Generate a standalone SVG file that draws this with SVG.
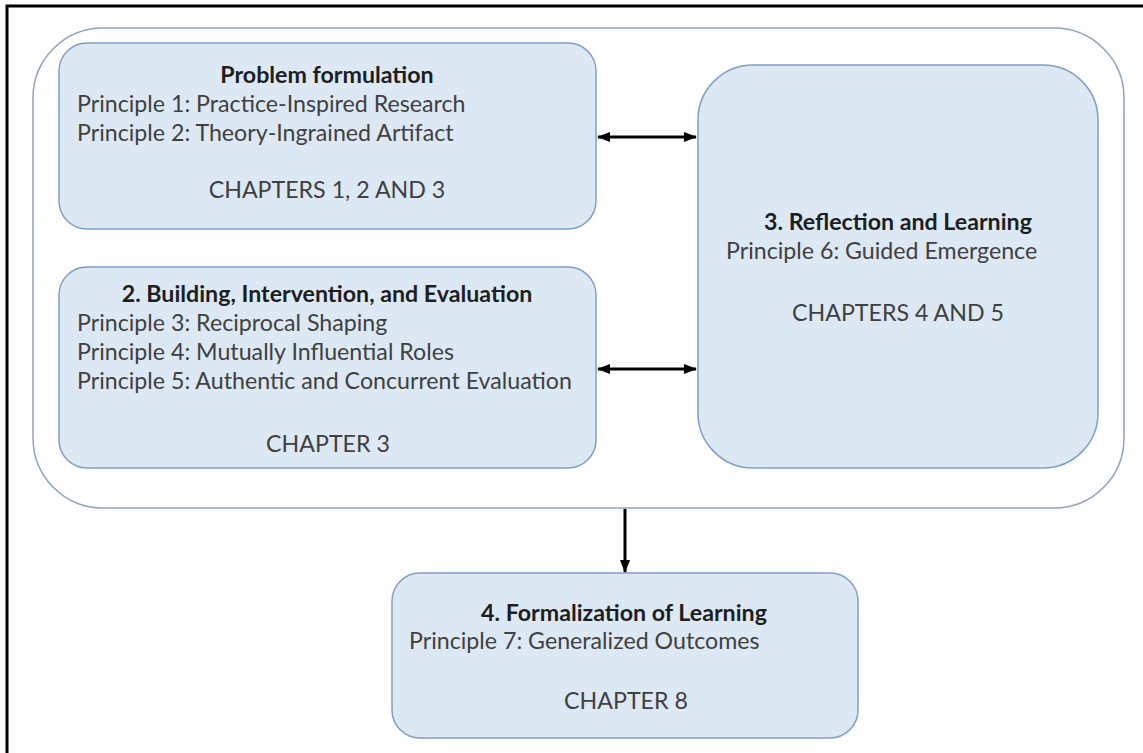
<svg xmlns="http://www.w3.org/2000/svg" width="1143" height="753" viewBox="0 0 1143 753">
  <defs>
    <style>
      .frame { stroke: #000; stroke-width: 3; fill: none; }
      .outer { fill: #ffffff; stroke: #8fa3bd; stroke-width: 1.5; }
      .box { fill: #dce8f4; stroke: #809fc4; stroke-width: 1.5; }
      .t { font-family: Lato, "Liberation Sans", sans-serif; font-size: 23.2px; fill: #404040; }
      .b { font-weight: bold; fill: #1e1e1e; }
      .c { text-anchor: middle; }
      .conn { stroke: #000; stroke-width: 3; fill: none; }
    </style>
    <marker id="ah" markerUnits="userSpaceOnUse" markerWidth="14" markerHeight="12" refX="12" refY="6" orient="auto-start-reverse">
      <path d="M0,1 L13,6 L0,11 Z" fill="#000"/>
    </marker>
  </defs>
  <rect width="1143" height="753" fill="#ffffff"/>
  <path class="frame" d="M7,753 L7,6 L1143,6"/>

  <g id="container">
    <rect class="outer" x="33" y="28" width="1091" height="480" rx="70" ry="70"/>
  </g>

  <g id="node-problem-formulation">
    <rect class="box" x="59" y="43" width="537" height="186" rx="28" ry="28"/>
    <text class="t b c" x="327" y="83">Problem formulation</text>
    <text class="t" x="77" y="112">Principle 1: Practice-Inspired Research</text>
    <text class="t" x="77" y="141">Principle 2: Theory-Ingrained Artifact</text>
    <text class="t c" x="327" y="198">CHAPTERS 1, 2 AND 3</text>
  </g>

  <g id="node-building">
    <rect class="box" x="59" y="267" width="537" height="201" rx="28" ry="28"/>
    <text class="t b c" x="327" y="302">2. Building, Intervention, and Evaluation</text>
    <text class="t" x="77" y="331">Principle 3: Reciprocal Shaping</text>
    <text class="t" x="77" y="360">Principle 4: Mutually Influential Roles</text>
    <text class="t" x="77" y="389">Principle 5: Authentic and Concurrent Evaluation</text>
    <text class="t c" x="328" y="452">CHAPTER 3</text>
  </g>

  <g id="node-reflection">
    <rect class="box" x="698" y="65" width="400" height="403" rx="55" ry="55"/>
    <text class="t b c" x="898" y="230">3. Reflection and Learning</text>
    <text class="t" x="726" y="259">Principle 6: Guided Emergence</text>
    <text class="t c" x="898" y="321">CHAPTERS 4 AND 5</text>
  </g>

  <g id="node-formalization">
    <rect class="box" x="392" y="573" width="466" height="165" rx="28" ry="28"/>
    <text class="t b c" x="624" y="621">4. Formalization of Learning</text>
    <text class="t" x="409" y="649">Principle 7: Generalized Outcomes</text>
    <text class="t c" x="626" y="709">CHAPTER 8</text>
  </g>

  <g id="connectors">
    <line class="conn" x1="598" y1="137" x2="696" y2="137" marker-start="url(#ah)" marker-end="url(#ah)"/>
    <line class="conn" x1="598" y1="369" x2="696" y2="369" marker-start="url(#ah)" marker-end="url(#ah)"/>
    <line class="conn" x1="625" y1="509" x2="625" y2="572" marker-end="url(#ah)"/>
  </g>
</svg>
